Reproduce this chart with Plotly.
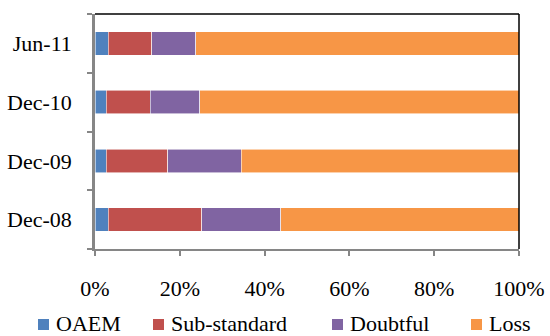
import plotly.graph_objects as go

# Loan classification mix by period (share of classified loans, %)
periods = ["Dec-08", "Dec-09", "Dec-10", "Jun-11"]
oaem = [3.1, 2.7, 2.7, 3.1]
sub_standard = [22.1, 14.5, 10.3, 10.3]
doubtful = [18.6, 17.3, 11.7, 10.4]
loss = [56.2, 65.5, 75.3, 76.2]

series_names = ["OAEM", "Sub-standard", "Doubtful", "Loss"]
series_values = [oaem, sub_standard, doubtful, loss]
series_colors = ["#4F81BD", "#C0504D", "#8064A2", "#F79646"]

x_ticks = [0, 20, 40, 60, 80, 100]

W, H = 550, 336
ML, MR, MT, MB = 95, 31, 14, 87
PW, PH = W - ML - MR, H - MT - MB
FONT = "Liberation Serif"

fig = go.Figure()
for name, vals, col in zip(series_names, series_values, series_colors):
    fig.add_trace(go.Bar(
        y=periods, x=vals, name=name, orientation="h",
        marker=dict(color=col, line=dict(color="rgba(255,255,255,0.7)", width=0.8)),
        showlegend=False,
    ))


def px_x(px):
    return (px - ML) / PW


def px_y(py):
    return (H - MB - py) / PH


# Legend row below the axis
shapes = []
annotations = []
legend_x = [38, 153, 332, 471]
for name, col, lx in zip(series_names, series_colors, legend_x):
    shapes.append(dict(type="rect", xref="paper", yref="paper",
                       x0=px_x(lx), x1=px_x(lx + 11),
                       y0=px_y(330), y1=px_y(319),
                       fillcolor=col, line=dict(width=0)))
    annotations.append(dict(xref="paper", yref="paper",
                            x=px_x(lx + 16), y=px_y(323),
                            xanchor="left", yanchor="middle",
                            text=name, showarrow=False,
                            font=dict(family=FONT, size=22, color="black")))

# Black frame on the top and right sides of the plot area
shapes.append(dict(type="line", xref="paper", yref="paper", x0=0, x1=1, y0=1, y1=1,
                   line=dict(color="black", width=1.5), layer="above"))
shapes.append(dict(type="line", xref="paper", yref="paper", x0=1, x1=1, y0=0, y1=1,
                   line=dict(color="black", width=1.5), layer="above"))

fig.update_layout(
    barmode="stack",
    bargap=0.6,
    width=W, height=H,
    margin=dict(l=ML, r=MR, t=MT, b=MB, pad=0),
    paper_bgcolor="white",
    plot_bgcolor="white",
    font=dict(family=FONT, size=22, color="black"),
    shapes=shapes,
    annotations=annotations,
    xaxis=dict(
        range=[0, 100], tickvals=x_ticks, ticktext=[f"{v}%" for v in x_ticks],
        showgrid=False, zeroline=False,
        showline=True, linecolor="#868686", linewidth=2,
        ticks="outside", ticklen=5, tickcolor="#868686", tickwidth=1.5,
        ticklabelstandoff=14,
        tickfont=dict(family=FONT, size=22, color="black"),
        automargin=False,
        fixedrange=True,
    ),
    yaxis=dict(
        showgrid=False, zeroline=False,
        showline=True, linecolor="#868686", linewidth=2.5,
        ticks="outside", ticklen=5, tickcolor="#868686", tickwidth=1.5,
        tickson="boundaries",
        ticklabelstandoff=16,
        tickfont=dict(family=FONT, size=22, color="black"),
        automargin=False,
        fixedrange=True,
    ),
)

fig.write_html("out.html")
